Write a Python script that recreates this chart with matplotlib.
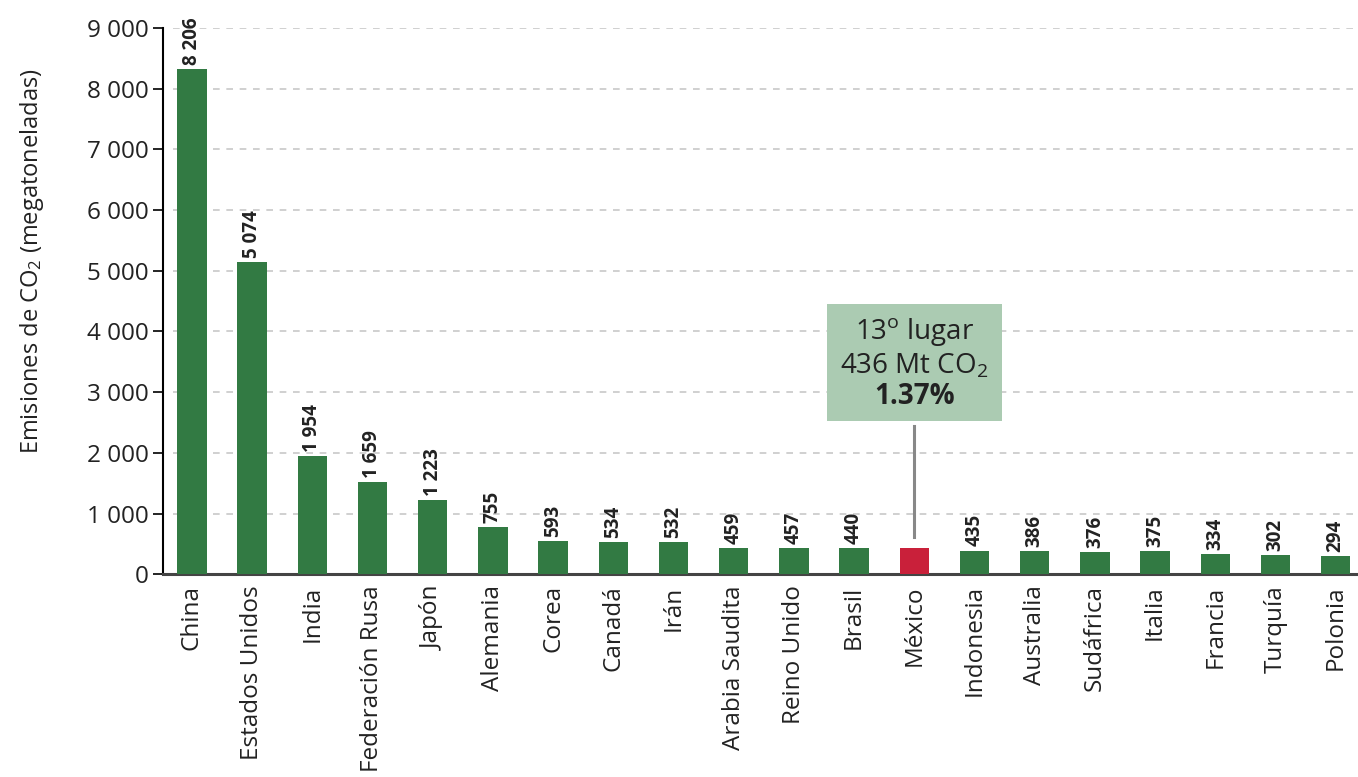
import matplotlib
matplotlib.use("Agg")
import matplotlib.pyplot as plt
from matplotlib.patches import Rectangle

# Countries, as printed under the bars
countries = ["China", "Estados Unidos", "India", "Federación Rusa", "Japón",
             "Alemania", "Corea", "Canadá", "Irán", "Arabia Saudita",
             "Reino Unido", "Brasil", "México", "Indonesia", "Australia",
             "Sudáfrica", "Italia", "Francia", "Turquía", "Polonia"]

# Bar heights as drawn in the chart (Mt CO2)
bar_heights = [8320, 5145, 1945, 1520, 1220, 780, 550, 525, 525, 435,
               435, 430, 425, 390, 380, 360, 380, 330, 320, 297]

# Value labels printed above the bars
label_values = ["8 206", "5 074", "1 954", "1 659", "1 223", "755", "593",
                "534", "532", "459", "457", "440", "", "435", "386", "376",
                "375", "334", "302", "294"]

highlight = "México"
yticks = [0, 1000, 2000, 3000, 4000, 5000, 6000, 7000, 8000, 9000]
ytick_labels = ["0", "1 000", "2 000", "3 000", "4 000", "5 000",
                "6 000", "7 000", "8 000", "9 000"]
box_lines = ["13$^{\\mathrm{o}}$ lugar", "436 Mt CO$_2$", "1.37%"]

GREEN = "#327a43"
RED = "#c9203a"
BOX = "#abcbb2"
TEXT = "#222222"

plt.rcParams["font.family"] = ["Open Sans", "DejaVu Sans"]
plt.rcParams["mathtext.fontset"] = "custom"
plt.rcParams["mathtext.rm"] = "Open Sans"
plt.rcParams["mathtext.it"] = "Open Sans"
plt.rcParams["mathtext.bf"] = "Open Sans:bold"

fig = plt.figure(figsize=(13.58, 7.77), dpi=100)
ax = fig.add_axes([0.12, 0.261, 0.88, 0.703])

x = list(range(len(countries)))
colors = [RED if c == highlight else GREEN for c in countries]
ax.bar(x, bar_heights, width=0.49, color=colors, zorder=3)

for xi, h, lab in zip(x, bar_heights, label_values):
    if lab:
        ax.annotate(lab, (xi, h), xytext=(0, 3), textcoords="offset points",
                    rotation=90, ha="center", va="bottom", fontsize=13.5,
                    fontweight="bold", color=TEXT, annotation_clip=False)

# grid
for t in yticks[1:]:
    ax.axhline(t, color="#c8c8c8", linestyle=(0, (4, 4)), linewidth=1.2,
               zorder=1, xmin=0.008)

ax.set_xlim(-0.48, len(countries) - 0.63)
ax.set_ylim(0, 9000)
ax.set_yticks(yticks)
ax.set_yticklabels(ytick_labels, fontsize=17.5, color=TEXT)
ax.set_xticks(x)
ax.set_xticklabels(countries, rotation=90, fontsize=17.5, color=TEXT)
ax.tick_params(axis="x", length=0, pad=8)
ax.tick_params(axis="y", length=7, width=1.2, pad=3)

for s in ["top", "right"]:
    ax.spines[s].set_visible(False)
ax.spines["left"].set_linewidth(1.5)
ax.spines["bottom"].set_linewidth(2.2)
ax.spines["bottom"].set_color("#444444")

ax.set_ylabel("Emisiones de CO$_2$ (megatoneladas)", fontsize=17,
              color=TEXT, labelpad=10)
ax.yaxis.set_label_coords(-0.098, 0.573)

# callout for Mexico
mi = countries.index(highlight)
ax.add_patch(Rectangle((mi - 1.45, 2520), 2.9, 1930, facecolor=BOX,
                       edgecolor="none", zorder=4))
ax.plot([mi, mi], [610, 2450], color="#888888", linewidth=2.2, zorder=4)
ax.text(mi, 3990, box_lines[0], ha="center", va="center", fontsize=20,
        color=TEXT, zorder=5)
ax.text(mi, 3430, box_lines[1], ha="center", va="center", fontsize=20,
        color=TEXT, zorder=5)
ax.text(mi, 2920, box_lines[2], ha="center", va="center", fontsize=20,
        fontweight="bold", color=TEXT, zorder=5)

fig.savefig("out.png", dpi=100)
